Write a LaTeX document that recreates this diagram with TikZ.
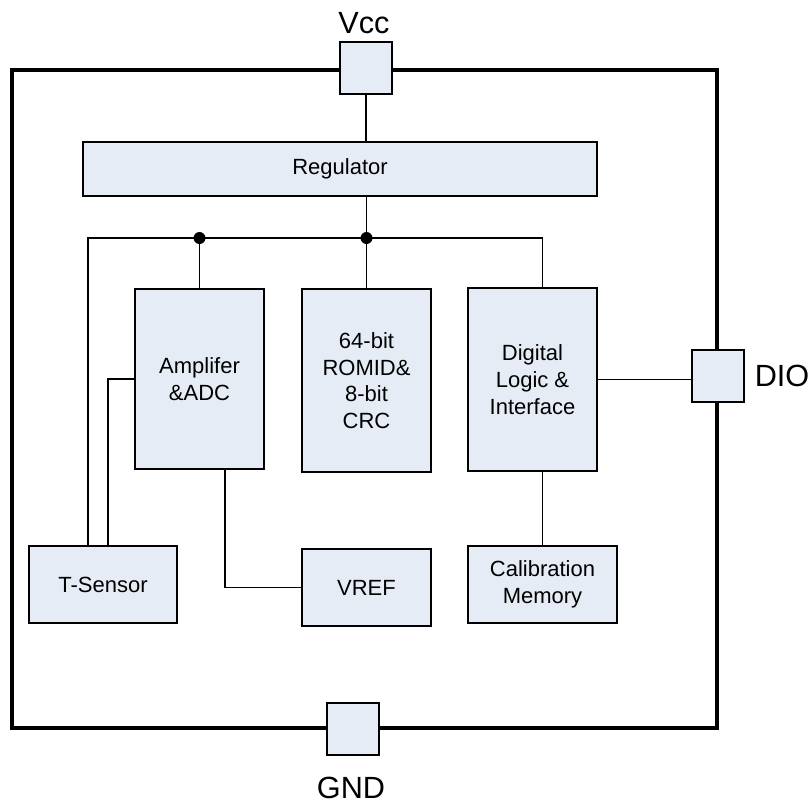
\documentclass[tikz,border=0pt]{standalone}
\usepackage{fontspec}
\setmainfont{Liberation Sans}
\usepackage{tikz}
\usetikzlibrary{positioning}
\definecolor{blockfill}{RGB}{230,236,246}

\begin{document}
\begin{tikzpicture}[x=0.75pt, y=-0.75pt,
  block/.style={draw, line width=1.3pt, fill=blockfill, align=center, inner sep=0pt,
    font=\fontsize{16.5}{20}\selectfont},
  pad/.style={draw, line width=1.3pt, fill=blockfill, minimum size=38.5pt, inner sep=0pt},
  pin/.style={font=\fontsize{23}{26}\selectfont, inner sep=0pt},
  wire/.style={line width=1.3pt}]
\useasboundingbox (0,0) rectangle (812,807);
\node[block, minimum width=385.5pt, minimum height=40.5pt] (reg) at (340,169) {Regulator};
\node[block, minimum width=96.75pt, minimum height=135pt] (amp) at (199.5,379) {Amplifer\\\&ADC};
\node[block, minimum width=96.75pt, minimum height=137.25pt] (rom) at (366.5,380.5) {64-bit\\ROMID\&\\8-bit\\CRC};
\node[block, minimum width=96.75pt, minimum height=137.25pt] (dig) at (532.5,379.5) {Digital\\Logic \&\\Interface};
\node[block, minimum width=111pt, minimum height=57.75pt] (tsens) at (103,584.5) {T-Sensor};
\node[block, minimum width=96.75pt, minimum height=57.75pt] (vref) at (366.5,587.5) {VREF};
\node[block, minimum width=111.75pt, minimum height=57.75pt] (cal) at (542.5,584.5) {Calibration\\Memory};
\draw[line width=3.2pt] (12,70) rectangle (717,728);
\node[pad] (vcc) at (366,68) {};
\node[pad] (dio) at (718,376) {};
\node[pad] (gnd) at (353,729) {};
\node[pin] (vcclbl) at (364,23) {Vcc};
\node[pin] (diolbl) at (782,376) {DIO};
\node[pin] (gndlbl) at (351,788) {GND};
\coordinate (j1) at (amp.north |- 0,238);
\coordinate (j2) at (rom.north |- 0,238);
\draw[wire] (vcc.south) -- (vcc.south |- reg.north);
\draw[wire] (reg.south -| j2) -- (j2) -- (rom.north);
\draw[wire] ([xshift=45pt]tsens.north west) |- (j2) -| (cal.north |- dig.north);
\draw[wire] (j1) -- (amp.north);
\draw[wire] (amp.west) -| ([xshift=60pt]tsens.north west);
\draw[wire] ([xshift=19pt]amp.south) |- (vref.west);
\draw[wire] (dig.south -| cal.north) -- (cal.north);
\draw[wire] (dig.east) -- (dig.east -| dio.west);
\fill (j1) circle (4.5pt) (j2) circle (4.5pt);
\end{tikzpicture}
\end{document}
